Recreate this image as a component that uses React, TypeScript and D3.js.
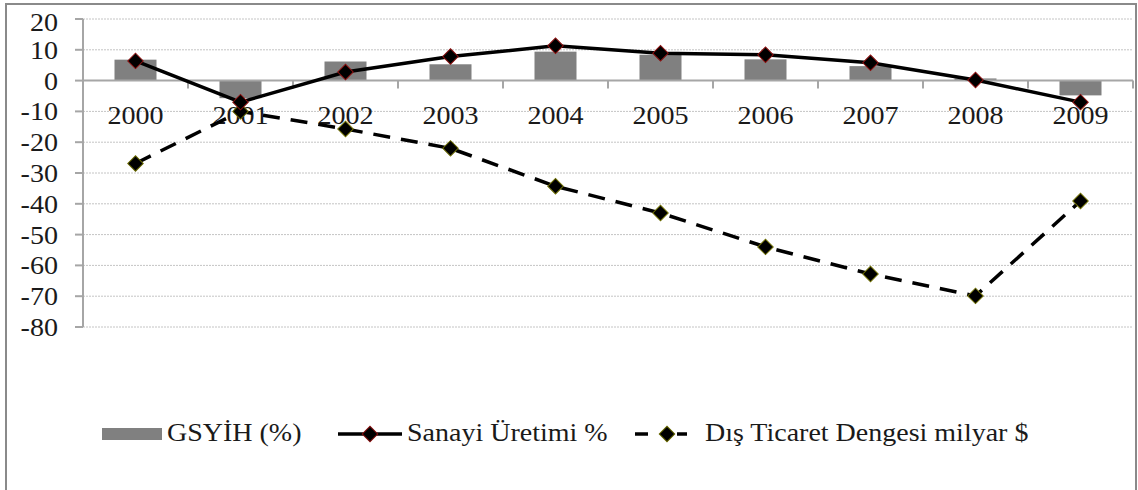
import React from "react";
import * as d3 from "d3";

const years = ["2000", "2001", "2002", "2003", "2004", "2005", "2006", "2007", "2008", "2009"];
const gsyih = [6.8, -5.7, 6.2, 5.3, 9.4, 8.4, 6.9, 4.7, 0.7, -4.8];
const sanayi = [6.4, -7.0, 2.8, 7.8, 11.3, 8.9, 8.4, 5.8, 0.2, -7.0];
const disTicaret = [-26.9, -10.0, -15.7, -22.0, -34.3, -43.0, -54.0, -62.8, -69.9, -39.1];
const yTicks = [20, 10, 0, -10, -20, -30, -40, -50, -60, -70, -80];
const legendLabels = ["GSYİH (%)", "Sanayi Üretimi %", "Dış Ticaret Dengesi milyar $"];

const W = 1138;
const H = 490;
const FONT = '"Times New Roman", Times, "Liberation Serif", "Noto Serif", "Nimbus Roman", FreeSerif, Tinos, serif';

const x = d3.scaleBand<string>().domain(years).range([83, 1133]).padding(0);
const xBar = d3.scaleBand<string>().domain(years).range([83, 1133]).paddingInner(0.6).paddingOuter(0.3);
const y = d3.scaleLinear().domain([-80, 20]).range([327, 19]);

const diamond = d3.symbol(d3.symbolSquare, 120)();

const lineGen = d3
  .line<number>()
  .x((_, i) => (x(years[i]) as number) + x.bandwidth() / 2)
  .y((d) => y(d));

function Marker({ cx, cy, stroke }: { cx: number; cy: number; stroke: string }) {
  return (
    <path
      d={diamond as string}
      transform={`translate(${cx},${cy}) rotate(45)`}
      fill="#000"
      stroke={stroke}
      strokeWidth={1}
    />
  );
}

function SText({
  x: tx,
  y: ty,
  size,
  sx,
  anchor,
  children,
}: {
  x: number;
  y: number;
  size: number;
  sx: number;
  anchor: string;
  children: React.ReactNode;
}) {
  return (
    <text
      transform={`translate(${tx},${ty}) scale(${sx},1)`}
      style={{ fontFamily: FONT, fontSize: `${size}px` }}
      textAnchor={anchor}
      fill="#1a1a1a"
    >
      {children}
    </text>
  );
}

export default function App() {
  const cx = (i: number) => (x(years[i]) as number) + x.bandwidth() / 2;
  const zeroY = y(0);
  return (
    <svg
      width={W}
      height={H}
      style={{ position: "absolute", left: 0, top: 0, background: "#fff" }}
    >
      {/* frame */}
      <rect x={6} y={4} width={1130} height={500} fill="#fff" stroke="#8a8a8a" strokeWidth={2} />

      {/* gridlines */}
      {yTicks
        .filter((t) => t !== 0)
        .map((t) => (
          <line
            key={`g${t}`}
            x1={83}
            x2={1133}
            y1={y(t)}
            y2={y(t)}
            stroke="#c4c4c4"
            strokeWidth={1}
            strokeDasharray="2,1"
          />
        ))}

      {/* y axis */}
      <line x1={83} x2={83} y1={y(20)} y2={y(-80)} stroke="#a6a6a6" strokeWidth={2} />
      {yTicks.map((t) => (
        <line key={`yt${t}`} x1={75} x2={83} y1={y(t)} y2={y(t)} stroke="#a6a6a6" strokeWidth={2} />
      ))}
      {yTicks.map((t) => (
        <SText key={`yl${t}`} x={58} y={Math.max(y(t), 22) + 9} size={26} sx={1.08} anchor="end">
          {t}
        </SText>
      ))}

      {/* bars */}
      {gsyih.map((v, i) => (
        <rect
          key={`b${i}`}
          x={xBar(years[i])}
          width={xBar.bandwidth()}
          y={Math.min(y(v), zeroY)}
          height={Math.abs(y(v) - zeroY)}
          fill="#808080"
        />
      ))}

      {/* zero axis with category ticks */}
      <line x1={83} x2={1133} y1={zeroY} y2={zeroY} stroke="#a6a6a6" strokeWidth={2} />
      {years.map((yr, i) => (
        <line
          key={`xt${i}`}
          x1={(x(yr) as number) + x.bandwidth()}
          x2={(x(yr) as number) + x.bandwidth()}
          y1={zeroY}
          y2={zeroY + 8}
          stroke="#a6a6a6"
          strokeWidth={2}
        />
      ))}
      {years.map((yr, i) => (
        <SText key={`xl${i}`} x={cx(i)} y={124} size={26} sx={1.08} anchor="middle">
          {yr}
        </SText>
      ))}

      {/* Dış Ticaret Dengesi */}
      <path
        d={lineGen(disTicaret) as string}
        fill="none"
        stroke="#000"
        strokeWidth={3.5}
        strokeDasharray="17,11"
      />
      {/* Sanayi Üretimi */}
      <path d={lineGen(sanayi) as string} fill="none" stroke="#000" strokeWidth={3.5} />
      {disTicaret.map((v, i) => (
        <Marker key={`dm${i}`} cx={cx(i)} cy={y(v)} stroke="#6b6b00" />
      ))}
      {sanayi.map((v, i) => (
        <Marker key={`sm${i}`} cx={cx(i)} cy={y(v)} stroke="#8b1010" />
      ))}

      {/* legend */}
      <rect x={102} y={428} width={60} height={12} fill="#808080" />
      <SText x={167} y={441} size={25} sx={1.12} anchor="start">
        {legendLabels[0]}
      </SText>

      <line x1={338} x2={402} y1={434} y2={434} stroke="#000" strokeWidth={3.5} />
      <Marker cx={370} cy={434} stroke="#8b1010" />
      <SText x={407} y={441} size={25} sx={1.12} anchor="start">
        {legendLabels[1]}
      </SText>

      <line x1={635} x2={648} y1={434} y2={434} stroke="#000" strokeWidth={3.5} />
      <line x1={677} x2={687} y1={434} y2={434} stroke="#000" strokeWidth={3.5} />
      <Marker cx={667} cy={434} stroke="#6b6b00" />
      <SText x={705} y={441} size={25} sx={1.12} anchor="start">
        {legendLabels[2]}
      </SText>
    </svg>
  );
}
